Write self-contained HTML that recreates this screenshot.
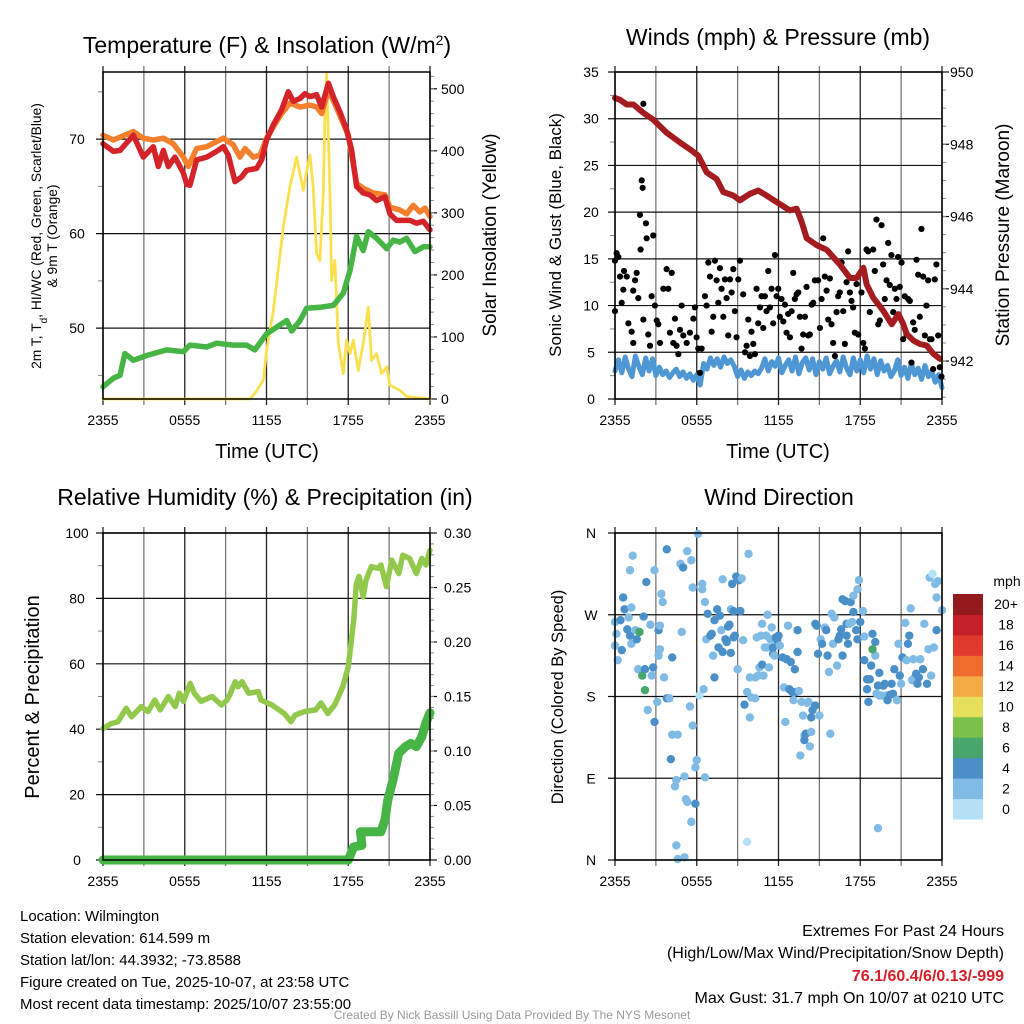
<!DOCTYPE html>
<html><head><meta charset="utf-8"><style>
html,body{margin:0;padding:0;background:#fff;}
svg{display:block;font-family:"Liberation Sans",Arial,sans-serif;}
</style></head><body>
<svg id="chart" width="1024" height="1024" viewBox="0 0 1024 1024" xmlns="http://www.w3.org/2000/svg">
<rect x="0" y="0" width="1024" height="1024" fill="#fff"/>
<text x="267" y="53" font-size="23" text-anchor="middle">Temperature (F) &amp; Insolation (W/m<tspan baseline-shift="super" font-size="14">2</tspan>)</text>
<text x="778" y="45" font-size="23" text-anchor="middle">Winds (mph) &amp; Pressure (mb)</text>
<text x="265" y="505" font-size="23" text-anchor="middle">Relative Humidity (%) &amp; Precipitation (in)</text>
<text x="779" y="505" font-size="23" text-anchor="middle">Wind Direction</text>
<text transform="translate(41,236) rotate(-90)" font-size="13.8" text-anchor="middle">2m T, T<tspan baseline-shift="sub" font-size="10">d</tspan>, HI/WC (Red, Green, Scarlet/Blue)</text>
<text transform="translate(57,236) rotate(-90)" font-size="13.8" text-anchor="middle">&amp; 9m T (Orange)</text>
<text transform="translate(496,235) rotate(-90)" font-size="19" text-anchor="middle">Solar Insolation (Yellow)</text>
<text transform="translate(561,235) rotate(-90)" font-size="17" text-anchor="middle">Sonic Wind &amp; Gust (Blue, Black)</text>
<text transform="translate(1009,235) rotate(-90)" font-size="19" text-anchor="middle">Station Pressure (Maroon)</text>
<text transform="translate(39,697) rotate(-90)" font-size="20" text-anchor="middle">Percent &amp; Precipitation</text>
<text transform="translate(563,697) rotate(-90)" font-size="16.5" text-anchor="middle">Direction (Colored By Speed)</text>
<text x="267" y="458" font-size="20" text-anchor="middle">Time (UTC)</text>
<text x="778" y="458" font-size="20" text-anchor="middle">Time (UTC)</text>
<g font-size="15">
<text x="20" y="921">Location: Wilmington</text>
<text x="20" y="943">Station elevation: 614.599 m</text>
<text x="20" y="965">Station lat/lon: 44.3932; -73.8588</text>
<text x="20" y="981" dy="6">Figure created on Tue, 2025-10-07, at 23:58 UTC</text>
<text x="20" y="1003" dy="6">Most recent data timestamp: 2025/10/07 23:55:00</text>
</g>
<g font-size="16" text-anchor="end">
<text x="1004" y="936">Extremes For Past 24 Hours</text>
<text x="1004" y="958">(High/Low/Max Wind/Precipitation/Snow Depth)</text>
<text x="1004" y="981" fill="#d42027" font-weight="bold">76.1/60.4/6/0.13/-999</text>
<text x="1004" y="1003">Max Gust: 31.7 mph On 10/07 at 0210 UTC</text>
</g>
<text x="512" y="1019" font-size="12" fill="#999" text-anchor="middle">Created By Nick Bassill Using Data Provided By The NYS Mesonet</text>
<g id="plots"></g>
</svg>
<script>
const xTickLabels = ["2355","0555","1155","1755","2355"];
const tempHours = [0,0.76,1.25,2.23,2.96,3.69,4.06,4.43,4.79,5.28,5.9,6.15,6.38,6.87,7.61,8.34,8.83,9.2,9.69,10.18,10.54,11.28,11.64,12.01,12.5,13.11,13.6,13.97,14.46,14.82,15.19,15.68,16.05,16.54,16.9,17.39,17.88,18.25,18.61,19.1,19.59,20.08,20.69,21.06,21.55,22.04,22.53,23.02,23.51,24];
const tempValues = [69.5,68.7,68.8,70.4,68.1,69.2,67.1,68.8,67.1,68.1,66.4,65.2,65.1,67.8,68.1,68.7,69.2,68.3,65.5,66.0,66.7,66.9,67.8,69.9,71.5,73.1,75.0,74.0,74.3,74.8,74.5,74.7,73.4,75.9,74.5,72.9,71.0,68.8,65.0,64.3,64.1,63.5,63.9,62.1,61.4,61.4,61.4,61.1,61.3,60.4];
const temp9mHours = [0,0.76,2.23,2.96,3.69,4.43,5.16,5.9,6.26,6.87,7.61,8.83,9.56,10.05,10.42,11.03,11.52,12.01,12.5,13.11,13.72,14.46,15.19,15.68,16.05,16.54,16.9,17.39,18.0,18.61,19.1,19.84,20.69,21.06,21.79,22.28,22.77,23.26,23.63,24];
const temp9mValues = [70.4,69.9,70.8,70.1,69.9,70.1,69.5,68.1,67.1,69.0,69.2,70.1,69.4,68.1,69.0,68.1,68.3,70.1,71.3,72.7,73.8,73.4,73.6,73.4,72.7,75.2,74.1,72.5,70.4,65.3,64.8,64.3,64.1,62.8,62.5,62.1,63.0,62.3,62.7,61.8];
const dewHours = [0,0.76,1.25,1.61,2.23,3.2,4.67,5.9,6.38,7.61,8.34,9.56,10.54,11.15,12.01,12.74,13.48,13.85,14.46,14.95,15.92,16.9,17.64,18.13,18.61,19.1,19.47,20.08,20.82,21.3,21.79,22.28,22.89,23.51,24];
const dewValues = [43.8,44.7,45.0,47.3,46.6,47.1,47.7,47.5,48.2,48.0,48.4,48.2,48.2,47.7,49.4,50.1,50.8,49.7,50.8,52.1,52.2,52.4,53.7,56.1,59.7,58.2,60.2,59.5,58.4,59.3,59.1,59.5,58.1,58.6,58.6];
const solarHours = [0,10.79,11.28,11.77,12.01,12.5,13.23,13.72,14.21,14.46,14.7,14.95,15.19,15.43,15.68,15.92,16.17,16.29,16.41,16.66,16.78,17.02,17.27,17.64,17.88,18.13,18.37,18.74,19.1,19.47,19.71,20.08,20.45,20.82,21.06,21.79,22.28,24];
const solarValues = [0,0,13,31,78,142,277,342,390,363,336,368,393,341,234,223,331,465,524,331,191,223,90,41,95,73,95,46,89,148,62,73,41,52,22,14,4,0];
const windSpeed = [3.0,4.2,2.8,4.5,3.2,2.4,4.6,3.5,2.6,4.4,3.0,4.3,2.5,3.4,2.6,3.0,2.3,2.8,3.2,2.4,2.9,2.2,2.7,2.0,2.6,1.5,3.8,3.2,4.4,3.6,4.3,3.4,4.5,3.8,4.2,3.5,2.4,3.1,2.2,2.9,2.5,3.0,2.7,3.3,4.3,3.0,4.0,3.5,4.4,2.8,3.6,4.2,3.0,4.5,2.7,3.9,4.4,3.1,4.3,2.6,4.0,3.2,4.4,2.7,3.5,4.1,2.9,4.5,3.3,2.6,4.4,3.0,4.2,2.8,4.6,3.2,4.3,2.6,4.1,3.0,3.6,2.4,3.0,4.2,2.5,3.4,2.2,3.8,2.6,3.3,2.1,3.6,2.4,3.0,1.8,2.6,1.2];
const pressHours = [0,0.37,0.86,1.35,2.08,2.81,3.79,4.77,5.5,6.12,6.73,7.46,7.95,8.69,9.17,9.91,10.52,11.13,11.87,12.84,13.33,13.7,14.07,14.8,15.54,16.51,17.25,17.74,18.23,18.47,18.96,19.69,20.31,20.8,21.16,21.41,21.9,22.39,22.88,23.36,23.85];
const pressValues = [949.28,949.23,949.10,949.10,948.87,948.68,948.32,948.05,947.86,947.68,947.22,947.04,946.68,946.58,946.45,946.63,946.72,946.58,946.40,946.17,946.22,945.85,945.40,945.21,945.08,944.67,944.30,944.30,944.58,944.12,943.75,943.39,943.02,943.30,943.02,942.75,942.57,942.47,942.43,942.20,942.06];
const gustHours = [0,0,0.12,0.24,0.37,0.49,0.61,0.66,0.86,0.98,1.22,1.34,1.34,1.47,1.59,1.71,1.83,1.88,1.96,2.03,2.08,2.08,2.27,2.32,2.44,2.57,2.69,2.81,2.93,3.06,3.18,3.30,3.55,3.79,3.91,4.03,4.16,4.28,4.40,4.52,4.65,4.77,4.89,5.01,5.26,5.50,5.75,5.87,5.99,6.11,6.23,6.36,6.60,6.72,6.85,6.97,7.09,7.21,7.33,7.46,7.58,7.70,7.82,7.95,8.07,8.19,8.31,8.44,8.56,8.68,8.80,8.92,9.05,9.17,9.41,9.54,9.66,9.78,9.90,10.02,10.15,10.27,10.39,10.51,10.64,10.76,10.88,11.00,11.12,11.25,11.37,11.49,11.61,11.74,11.86,11.98,12.10,12.22,12.35,12.47,12.59,12.71,12.84,12.96,13.08,13.20,13.33,13.45,13.57,13.69,13.81,13.94,14.06,14.18,14.30,14.43,14.55,14.67,14.91,15.04,15.16,15.28,15.40,15.53,15.65,15.77,15.89,16.01,16.14,16.26,16.38,16.50,16.63,16.75,16.87,16.99,17.11,17.24,17.36,17.48,17.60,17.73,17.85,18.09,18.22,18.34,18.46,18.58,18.70,18.95,19.07,19.19,19.32,19.44,19.56,19.68,19.80,19.93,20.05,20.17,20.29,20.42,20.54,20.66,20.78,20.90,21.03,21.15,21.27,21.39,21.52,21.64,21.76,21.88,22.00,22.13,22.25,22.37,22.49,22.62,22.74,22.86,22.98,23.11,23.23,23.35,23.47,23.59,23.72,23.84,23.96];
const gustValues = [14.8,9.4,15.6,15.2,13.1,10.3,11.7,13.7,13.1,8.1,7.2,6.0,11.6,12.7,13.5,10.8,19.7,16.0,23.4,22.6,8.5,31.6,18.8,17.2,6.9,5.7,11.0,17.5,10.0,8.4,8.0,6.0,11.8,13.9,11.8,7.1,13.5,6.0,8.6,5.7,4.8,7.4,10.0,6.8,6.0,7.1,8.6,9.8,6.6,5.4,2.8,5.4,11.0,10.0,14.6,13.1,7.2,8.8,14.8,12.7,10.3,14.0,11.8,8.8,12.8,10.8,6.8,12.8,11.4,13.9,9.4,6.6,12.8,14.8,11.2,5.0,5.7,8.5,4.6,7.2,5.9,4.8,11.8,8.1,9.8,11.0,7.6,11.0,9.4,13.7,9.8,11.8,8.1,15.4,11.0,11.8,8.8,10.7,8.3,10.1,7.1,9.1,6.6,9.4,13.5,10.7,11.2,11.4,8.8,5.4,6.9,8.8,12.0,6.8,6.9,10.1,10.3,12.7,12.7,7.6,10.7,17.2,13.1,11.6,8.5,12.9,8.0,6.0,4.6,9.3,11.0,11.4,14.6,9.4,5.9,12.5,15.8,11.4,10.5,9.8,7.1,12.3,6.9,11.4,6.0,5.4,16.0,15.8,9.3,16.0,13.7,19.2,8.0,8.4,18.6,14.4,10.7,12.7,16.7,12.2,15.4,9.3,11.8,10.7,15.2,12.0,14.6,6.4,11.0,6.9,10.7,10.5,3.9,8.2,7.4,14.9,13.3,8.8,18.2,13.1,6.8,10.0,12.7,6.4,6.4,3.2,12.8,14.4,6.8,3.4,2.4];
const rhHours = [0,0.6,1.1,1.7,2.1,2.8,3.3,3.8,4.2,4.8,5.3,5.6,5.9,6.4,6.7,7.2,8.0,8.7,9.1,9.3,9.7,9.9,10.2,10.7,11.4,11.6,12.4,13.3,13.8,14.1,14.8,15.6,16.0,16.5,17.0,17.6,18.0,18.4,18.6,18.8,19.1,19.3,19.7,20.2,20.4,20.8,21.2,21.7,22.0,22.5,23.0,23.4,23.7,24];
const rhValues = [40.2,41.7,42.3,46.4,43.8,46.9,45.4,48.9,45.9,50.0,46.9,51.0,48.5,54.0,51.0,48.5,50.0,47.4,48.9,50.5,54.5,53.0,54.5,51.0,51.5,48.9,47.4,44.8,42.3,44.3,45.4,45.9,48.0,44.8,47.4,53.0,59.1,73.4,84.6,86.7,80.5,85.6,89.7,89.2,90.2,83.6,91.7,87.6,93.2,92.2,87.6,92.2,90.2,94.7];
const precipHours = [0,18.0,18.4,19.0,18.9,20.4,20.7,20.9,21.3,21.7,22.2,22.6,23.0,23.4,23.7,24];
const precipValues = [0,0,0.012,0.0135,0.026,0.026,0.037,0.055,0.074,0.098,0.104,0.107,0.104,0.113,0.126,0.135];
const dirHours = [0,0.1,0.2,0,0.4,0.5,0.6,0.7,0.9,1.0,1.1,1.1,1.2,1.2,1.3,1.5,1.6,1.7,1.8,2.0,2.1,2.2,2.2,2.3,2.4,2.6,2.7,2.8,2.9,2.9,3.1,3.2,3.3,3.2,3.3,3.4,3.5,3.6,3.8,3.8,4.0,4.2,4.1,4.2,4.5,4.4,4.5,4.6,4.8,4.9,5.0,4.6,5.1,5.1,5.2,5.3,5.3,5.5,5.6,5.6,5.7,5.7,5.9,6.0,5.9,6.1,6.2,6.4,6.4,6.5,6.6,6.7,6.8,7.0,7.1,7.2,7.3,7.3,7.5,7.6,7.7,7.8,7.9,7.9,8.1,8.2,8.3,8.4,8.5,8.5,8.6,8.7,8.7,8.8,8.9,9.0,9.1,9.2,9.3,9.4,9.5,9.7,9.8,9.9,9.9,10.0,10.3,10.3,10.4,10.5,10.6,10.7,10.8,10.8,10.9,11.0,11.1,11.2,11.2,11.3,11.4,11.5,11.6,11.6,11.7,11.8,11.9,12.0,12.1,12.3,12.4,12.5,12.6,12.7,12.8,12.9,13.0,13.1,13.2,13.3,13.4,13.4,13.5,13.6,13.7,13.8,13.9,13.9,14.0,14.1,14.2,14.3,14.4,14.4,14.5,14.7,14.7,14.8,14.9,15.0,15.1,15.2,15.4,15.5,15.6,15.7,15.8,15.9,16.0,16.1,16.3,16.4,16.5,16.6,16.7,16.7,16.9,17.0,17.0,17.1,17.2,17.3,17.4,17.5,17.5,17.7,17.8,17.8,17.9,18.0,18.2,18.3,18.3,18.5,18.5,18.6,18.7,18.8,18.9,19.1,19.1,18.9,19.2,19.3,19.4,19.4,19.6,19.7,19.8,19.9,20.0,20.2,20.3,20.4,20.5,20.7,20.8,20.9,21.0,21.1,21.3,21.4,21.5,21.6,21.7,21.8,21.9,22.0,22.1,22.2,22.3,22.4,22.6,22.7,22.9,23.0,23.2,23.1,23.3,23.4,23.5,23.6,23.6,23.7,24.0,19.3,9.7,6.6];
const dirDegrees = [262,249,220,236,264,231,289,276,254,267,247,319,278,238,335,253,243,210,251,203,268,187,210,306,165,259,203,212,319,152,174,253,258,225,232,293,284,201,342,178,178,223,111,138,88,81,16,138,326,251,322,1,3,92,67,64,340,169,330,42,148,300,102,110,62,359,181,304,298,188,284,243,271,247,249,225,201,264,276,234,269,253,309,229,243,240,257,259,228,276,304,245,274,247,312,210,308,274,310,242,171,185,337,157,201,179,201,178,245,203,212,247,215,260,203,234,247,270,234,212,243,256,234,227,225,245,242,247,236,223,190,152,221,258,188,218,185,176,210,185,253,229,186,115,174,159,137,132,139,173,174,125,141,157,165,170,260,258,227,159,243,238,256,253,225,207,139,271,238,267,214,243,247,254,287,225,285,260,247,238,260,284,262,291,273,253,298,243,308,262,274,220,246,199,188,174,199,214,249,225,240,232,183,192,206,181,181,192,194,181,176,182,194,183,210,176,238,203,194,223,261,220,238,247,277,198,221,201,205,194,201,221,210,260,194,232,203,311,315,234,304,289,253,307,275,35,20,91];
const dirSpeeds = [3,3,3,3,5,5,5,5,5,3,5,3,3,3,3,3,5,3,7,7,5,7,5,5,3,3,3,5,3,5,3,5,3,3,3,3,3,3,5,5,3,5,5,3,3,3,3,3,3,3,5,3,3,3,3,3,3,3,3,3,3,3,3,3,5,3,1,3,3,3,3,3,5,5,5,3,5,5,5,5,5,3,3,5,5,5,5,5,5,3,5,5,5,5,5,3,5,5,3,3,5,3,3,3,3,3,3,3,3,3,3,3,5,3,3,3,3,3,3,3,3,3,5,5,3,5,5,5,3,5,3,3,5,3,5,5,5,3,5,5,5,5,3,3,3,3,3,5,5,3,3,3,3,5,5,5,5,5,5,3,3,5,3,5,5,3,3,3,3,3,3,5,5,5,5,5,5,5,5,5,3,5,3,3,5,5,3,5,3,5,3,5,3,5,5,5,5,5,5,3,5,7,3,5,5,3,3,5,5,3,5,5,5,5,5,3,3,5,3,5,3,3,5,5,3,3,3,3,5,5,5,3,5,3,5,3,3,3,1,3,3,3,5,3,3,3,1,3];
const speedBins = [0,2,4,6,8,10,12,14,16,18,20];
const speedLabels = ["0","2","4","6","8","10","12","14","16","18","20+"];
const speedColors = ["#b4e1f6","#80bbe5","#4a8fc7","#48a56b","#7cc04c","#e6df5c","#f6aa46","#ef6c2f","#e0392d","#c21f27","#951a1d"];

const NS="http://www.w3.org/2000/svg";
const root=document.getElementById('plots');
function el(tag,attrs,parent){const e=document.createElementNS(NS,tag);for(const k in attrs)e.setAttribute(k,attrs[k]);(parent||root).appendChild(e);return e;}
function txt(s,x,y,size,anchor,parent){const t=el('text',{x:x,y:y,'font-size':size,'text-anchor':anchor},parent);t.textContent=s;return t;}
function scale(d0,d1,r0,r1){return v=>r0+(v-d0)/(d1-d0)*(r1-r0);}

function panel(name,L,R,T,B){
  const g=el('g',{});
  
  
  const x=scale(0,24,L,R);
  for(let h=0;h<=24;h+=3){
    const ln=el('line',{x1:x(h),x2:x(h),y1:T-6,y2:B+6,stroke:(h%6===0)?'#222':'#777','stroke-width':1.3},g);
    
    
  }
  xTickLabels.forEach((s,i)=>{
    const t=txt(s,x(i*6),B+26,14,'middle',g);
    
    
  });
  return {g,x};
}
function hgrid(g,L,R,yv,ticks,labelX,anchor,fmt,side){
  ticks.forEach(v=>{
    if(side==='left'){
      const ln=el('line',{x1:L-7,x2:R,y1:yv(v),y2:yv(v),stroke:'#111','stroke-width':1.2},g);
      
      
    } else {
      const tk=el('line',{x1:R,x2:R+7,y1:yv(v),y2:yv(v),stroke:'#111','stroke-width':1.2},g);
      
      
    }
    const t=txt(fmt(v),labelX,yv(v)+5,14,anchor,g);
    
    
  });
}
function minor(g,xpos,yv,vals,len){
  vals.forEach(v=>{const m=el('line',{x1:xpos,x2:xpos+len,y1:yv(v),y2:yv(v),stroke:'#888','stroke-width':1},g);
    
    });
}
function frame(g,L,R,T,B){
  const f=el('rect',{x:L,y:T,width:R-L,height:B-T,fill:'none',stroke:'#000','stroke-width':1.5},g);
  
  
}
function line(g,xs,ys,xf,yf,color,w,name){
  const d=xs.map((h,i)=>(i?'L':'M')+xf(h).toFixed(1)+','+yf(ys[i]).toFixed(1)).join('');
  const p=el('path',{d:d,fill:'none',stroke:color,'stroke-width':w,'stroke-linejoin':'round','stroke-linecap':'round'},g);
  
  
  return p;
}
function range(a,b,s){const r=[];for(let v=a;v<=b+1e-9;v+=s)r.push(+v.toFixed(4));return r;}

(function(){
  const L=103,R=430,T=72,B=399;
  const {g,x}=panel('temperature-panel',L,R,T,B);
  const yT=scale(42.5,77.1,B,T), yS=scale(0,527,B,T);
  hgrid(g,L,R,yT,[50,60,70],77,'middle',v=>String(v),'left');
  minor(g,L-5,yT,[45,55,65,75],5);
  hgrid(g,L,R,yS,[0,100,200,300,400,500],441,'start',v=>String(v),'right');
  minor(g,R,yS,range(20,520,20),4);
  line(g,solarHours,solarValues,x,yS,'#fbe04e',2.8,'solar-insolation-line');
  line(g,dewHours,dewValues,x,yT,'#47b446',5.5,'dewpoint-line');
  line(g,temp9mHours,temp9mValues,x,yT,'#f47f2c',5.5,'temperature-9m-line');
  line(g,tempHours,tempValues,x,yT,'#d52429',5.5,'temperature-2m-line');
  frame(g,L,R,T,B);
})();
(function(){
  const L=615,R=942,T=72,B=399;
  const {g,x}=panel('winds-panel',L,R,T,B);
  const yW=scale(0,35,B,T), yP=scale(940.95,950,B,T);
  hgrid(g,L,R,yW,range(0,35,5),591,'middle',v=>String(v),'left');
  minor(g,L-5,yW,range(2.5,32.5,5),5);
  hgrid(g,L,R,yP,[942,944,946,948,950],950,'start',v=>String(v),'right');
  minor(g,R,yP,range(941,949.5,0.5),4);
  const wx=windSpeed.map((v,i)=>i*24/(windSpeed.length-1));
  line(g,wx,windSpeed,x,yW,'#4f97d4',5,'sonic-wind-line');
  gustValues.forEach((v,i)=>{
    const c=el('circle',{cx:x(gustHours[i]),cy:yW(v),r:3.1,fill:'#000'},g);
    
    
  });
  line(g,pressHours,pressValues,x,yP,'#a51c20',6,'pressure-line');
  frame(g,L,R,T,B);
})();
(function(){
  const L=103,R=430,T=533,B=860;
  const {g,x}=panel('humidity-panel',L,R,T,B);
  const yR=scale(0,100,B,T), yPr=scale(0,0.30,B,T);
  hgrid(g,L,R,yR,range(0,100,20),77,'middle',v=>String(v),'left');
  minor(g,L-5,yR,range(10,90,20),5);
  hgrid(g,L,R,yPr,range(0,0.30,0.05),444,'start',v=>v.toFixed(2),'right');
  minor(g,R,yPr,range(0.01,0.29,0.01),4);
  line(g,rhHours,rhValues,x,yR,'#92c94c',5.5,'relative-humidity-line');
  line(g,precipHours,precipValues,x,yPr,'#47b446',9,'precipitation-line');
  frame(g,L,R,T,B);
})();
(function(){
  const L=615,R=942,T=533,B=860;
  const {g,x}=panel('wind-direction-panel',L,R,T,B);
  const yD=scale(0,360,B,T);
  hgrid(g,L,R,yD,[0,90,180,270,360],591,'middle',v=>({0:'N',90:'E',180:'S',270:'W',360:'N'})[v],'left');
  function col(s){let k=0;for(let i=0;i<speedBins.length;i++)if(s>=speedBins[i])k=i;return speedColors[k];}
  dirDegrees.forEach((d,i)=>{
    const c=el('circle',{cx:x(dirHours[i]),cy:yD(d),r:4.2,fill:col(dirSpeeds[i])},g);
    
    
  });
  frame(g,L,R,T,B);
  const cb=el('g',{});
  
  
  const cbTop=594,cbBot=819,bh=(cbBot-cbTop)/speedColors.length;
  speedColors.forEach((c,i)=>{
    const yy=cbBot-(i+1)*bh;
    const r=el('rect',{x:953,y:yy,width:30,height:bh+0.5,fill:c},cb);
    
    
    const t=txt(speedLabels[i],1006,yy+bh/2+5,14,'middle',cb);
    
    
  });
  const u=txt('mph',1007,586,14,'middle',cb);
  
  
})();
</script>
</body></html>
